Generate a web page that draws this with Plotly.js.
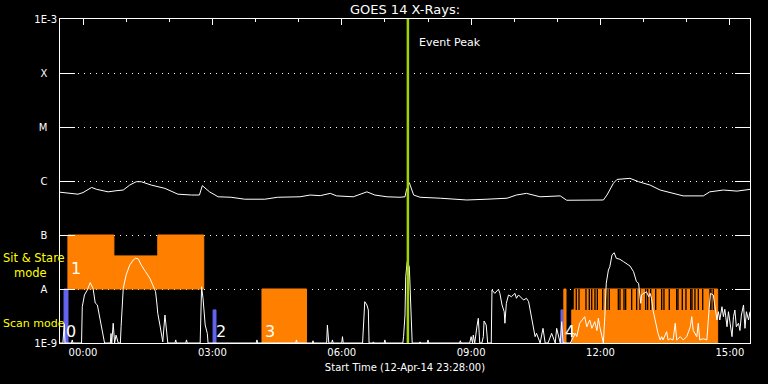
<!DOCTYPE html>
<html><head><meta charset="utf-8">
<script src="https://cdn.plot.ly/plotly-3.0.1.min.js"></script>
<style>html,body{margin:0;padding:0;background:#000;} #chart{width:768px;height:384px;}</style>
</head><body><div id="chart"></div>
<script>
// ---------- data ----------
const chartTitle = 'GOES 14 X-Rays:';
const xTitle = 'Start Time (12-Apr-14 23:28:00)';
const spanMinutes = 960;            // 16 h window starting 12-Apr-14 23:28
const eventPeakMinute = 484;        // minutes after start

const yTickVals = [1e-9, 1e-8, 1e-7, 1e-6, 1e-5, 1e-4, 1e-3];
const yTickText = ['1E-9', 'A', 'B', 'C', 'M', 'X', '1E-3'];

// GOES long channel flux (minutes after start, W/m^2)
const goesMinutes = [0,25,32,44,51,67,78,88,97,106, 113,127,146,164,183,194,198,208,220,238,
  257,285,303,334,348,362,376,385,408,427, 438,455,473,480,482,486,492,501,529,566,
  594,622,635,649,668,696,705,756,761,770, 775,793,805,821,835,853,867,895,904,923, 942,960];
const goesFlux = [6.2e-7,5.7e-7,6.1e-7,7.6e-7,7.0e-7,6.3e-7,6.6e-7,6.8e-7,8.4e-7,9.7e-7,
  9.7e-7,8.4e-7,7.3e-7,5.7e-7,5.5e-7,5.5e-7,8.2e-7,6.3e-7,5.1e-7,5.0e-7,
  4.6e-7,4.6e-7,5.0e-7,5.1e-7,5.5e-7,5.35e-7,5.9e-7,5.3e-7,5.1e-7,6.3e-7,
  5.5e-7,5.1e-7,5.0e-7,5.1e-7,6.8e-7,9.3e-7,5.5e-7,5.0e-7,4.8e-7,4.45e-7,
  4.6e-7,4.8e-7,5.5e-7,5.9e-7,5.1e-7,5.3e-7,4.4e-7,4.45e-7,5.5e-7,9.1e-7,
  1.07e-6,1.12e-6,9.7e-7,8.4e-7,6.8e-7,5.9e-7,5.3e-7,5.3e-7,6.3e-7,6.8e-7,
  6.5e-7,7.0e-7];

// lower white curve
const lowMinutes = [0,4,6,7,16,17,18,30,31,34, 38,42,46,49,52,55,57,60,62,70,
  71,72,74,76,78,81,84,85,88,92, 97,102,105,109,113,119,125,129,133,135,
  136,139,141,143,146,148,150,160,161,162, 175,176,177,195,197,199,200,202,205,206,
  273,274,275,328,329,330,351,352,353,371, 372,373,374,378,379,380,392,393,394,421,
  422,424,427,429,430,435,436,437,451,452, 453,477,478,480,481,483,486,487,488,490,
  500,501,502,511,512,513,556,557,558,570, 572,574,575,577,580,582,584,587,589,590,
  593,595,600,601,605,610,612,615,618,619, 621,624,628,633,635,638,645,649,652,654,
  656,659,661,663,668,672,675,679,684,689, 691,696,698,700,710,717,719,723,727,730,
  733,737,740,744,747,749,751,754,756,758, 760,763,765,768,771,774,779,784,788,793,
  798,800,802,805,806,808,809,812,816,819, 821,823,825,828,830,832,835,837,839,844,
  846,849,853,856,858,863,867,872,877,879, 881,886,888,890,895,900,903,905,909,911,
  914,916,918,921,923,925,928,930,932,935, 937,939,941,944,946,948,951,953,955,958, 960];
const lowFlux = [1e-9,1e-9,2.25e-9,1e-9,1e-9,1.14e-9,1e-9,1e-9,4.7e-9,7.75e-9,
  9.6e-9,1.31e-8,1.03e-8,5.5e-9,5.06e-9,3.07e-9,2.0e-9,1.31e-9,1e-9,1e-9,
  1.5e-9,1e-9,2.32e-9,1e-9,1.4e-9,1e-9,1e-9,2.0e-9,1.03e-8,1.82e-8,
  2.78e-8,3.45e-8,3.71e-8,3.6e-8,2.78e-8,2.09e-8,1.58e-8,1.19e-8,8.9e-9,5.06e-9,
  3.55e-9,2.15e-9,1.4e-9,1.05e-9,3.3e-9,1.87e-9,1e-9,1e-9,1.14e-9,1e-9,
  1e-9,1.14e-9,1e-9,1e-9,1.1e-8,6.7e-9,3.8e-9,2.15e-9,1.5e-9,1e-9,
  1e-9,1.14e-9,1e-9,1e-9,1.14e-9,1e-9,1e-9,1.1e-9,1e-9,1e-9,
  2.15e-9,1.35e-9,1e-9,1e-9,1.14e-9,1e-9,1e-9,1.31e-9,1e-9,1e-9,
  1.62e-9,5.82e-9,5.06e-9,4.09e-9,1e-9,1e-9,1.05e-9,1e-9,1e-9,1.14e-9,
  1e-9,1e-9,1.31e-9,3.3e-9,1.69e-8,3.2e-8,2.59e-8,1.1e-8,5.43e-9,1e-9,
  1e-9,1.05e-9,1e-9,1e-9,1.14e-9,1e-9,1e-9,1.1e-9,1e-9,1e-9,
  1.31e-9,1e-9,1.4e-9,1e-9,2.0e-9,2.87e-9,1e-9,1e-9,1.31e-9,2.55e-9,
  2.15e-9,1e-9,1e-9,9.6e-9,8.3e-9,9.9e-9,8.3e-9,5.06e-9,3.8e-9,2.32e-9,
  5.43e-9,7.75e-9,7.2e-9,8.3e-9,6.73e-9,7.75e-9,6.25e-9,6.73e-9,5.82e-9,4.09e-9,
  3.07e-9,1.87e-9,1.31e-9,1.51e-9,1e-9,1.87e-9,1e-9,1e-9,1.51e-9,1e-9,
  1.87e-9,1e-9,2.48e-9,1e-9,1e-9,1.51e-9,1.31e-9,2.32e-9,2.67e-9,3.07e-9,
  2.0e-9,2.67e-9,1.87e-9,2.48e-9,1.7e-9,2.87e-9,2.0e-9,1.31e-9,1e-9,3.07e-9,
  1.28e-8,2.25e-8,2.59e-8,4.27e-8,4.7e-8,3.71e-8,3.55e-8,3.21e-8,2.99e-8,2.67e-8,
  2.09e-8,1.69e-8,1.37e-8,1.28e-8,9.6e-9,5.43e-9,7.75e-9,8.3e-9,8.9e-9,7.2e-9,
  8.3e-9,6.73e-9,4.09e-9,2.67e-9,1.87e-9,1.51e-9,1.14e-9,1.31e-9,1.14e-9,1.62e-9,
  1.14e-9,1.2e-9,1.14e-9,2.32e-9,1.14e-9,1.31e-9,1.14e-9,1.31e-9,2.0e-9,3.07e-9,
  1.7e-9,1.31e-9,2.32e-9,1.14e-9,1.2e-9,1.14e-9,4.09e-9,8.3e-9,7.75e-9,4.7e-9,
  2.67e-9,3.8e-9,2.67e-9,4.7e-9,3.07e-9,4.2e-9,2.0e-9,3.8e-9,2.67e-9,1.31e-9,
  3.07e-9,4.09e-9,2.0e-9,2.32e-9,1.7e-9,3.3e-9,5.06e-9,1.87e-9,3.8e-9,2.67e-9, 3.8e-9];

// observation blocks
const obsStart = [5.6, 11, 75, 136, 213, 281, 697, 701, 712];
const obsEnd   = [11.1, 75, 136, 200, 217, 343, 700, 704, 915];
const obsLow   = [1e-9, 1e-8, 1e-8, 1e-8, 1e-9, 1e-9, 1e-9, 1e-9, 1e-9];
const obsHigh  = [1e-8, 1e-7, 4.1e-8, 1e-7, 4.1e-9, 1e-8, 4.1e-9, 1e-8, 4.1e-9];
const obsKind  = ['scan','stare','stare','stare','scan','stare','scan','stare','stare'];

// rapid raster steps above the last block (gap minutes)
const rasterFrom = 715.5, rasterTo = 915, rasterLow = 4.1e-9, rasterHigh = 1e-8;
const rasterGaps = [718.3,722.1,731.8,736.4,739.8,744.3,747.6,755.1,761.0,764.2,776.8,779.1,
  784.7,787.0,795.4,802.3,806.9,814.9,817.6,821.8,828.8,837.1,840.3,847.7,858.0,859.8,
  865.8,870.9,877.5,879.3,883.4,888.1,894.2,904.3,905.7,908.9];

const obsLabels = ['0','1','2','3','4'];
const obsLabelMinute = [6, 12, 214, 282, 700];
const obsLabelBase = [1e-9, 1e-8, 1e-9, 1e-9, 1e-9];

// ---------- build ----------
const base = Date.UTC(2014, 3, 12, 23, 28, 0);
function t(m) { return new Date(base + m * 60000).toISOString().slice(0, 23).replace('T', ' '); }

const ORANGE = '#ff8000', BLUE = '#6464f0', GREEN = '#9fd400';
const traces = [];
function rect(s, e, lo, hi, color) {
  traces.push({x: [t(s), t(e), t(e), t(s), t(s)], y: [lo, lo, hi, hi, lo], type: 'scatter', mode: 'lines',
    fill: 'toself', fillcolor: color, line: {width: 1, color: color}, hoverinfo: 'skip'});
}
obsStart.forEach((s, i) => rect(s, obsEnd[i], obsLow[i], obsHigh[i], obsKind[i] === 'scan' ? BLUE : ORANGE));
rect(rasterFrom, rasterTo, rasterLow, rasterHigh, ORANGE);
const gx = [], gy = [];
rasterGaps.forEach(g => { gx.push(t(g), t(g), null); gy.push(rasterLow, rasterHigh, null); });
traces.push({x: gx, y: gy, type: 'scatter', mode: 'lines', line: {color: '#000', width: 1.3},
  connectgaps: false, hoverinfo: 'skip'});

traces.push({x: goesMinutes.map(t), y: goesFlux, type: 'scatter', mode: 'lines',
  line: {color: '#fff', width: 1}, hoverinfo: 'skip'});
traces.push({x: lowMinutes.map(t), y: lowFlux, type: 'scatter', mode: 'lines',
  line: {color: '#fff', width: 1}, hoverinfo: 'skip'});
traces.push({x: [t(eventPeakMinute), t(eventPeakMinute)], y: [yTickVals[0], yTickVals[6]], xaxis: 'x2',
  type: 'scatter', mode: 'lines', line: {color: GREEN, width: 2.5}, hoverinfo: 'skip'});

const NB = '\u00a0';
const yTickLabels = yTickText.map(s => s.length === 1 ? s + NB + NB + NB : s);

const annotations = [
  {text: 'Event Peak', x: t(eventPeakMinute), xref: 'x', xshift: 9, xanchor: 'left',
   y: Math.log10(3.6e-4), yref: 'y', yanchor: 'middle', showarrow: false, font: {size: 11, color: '#fff'}},
  {text: 'Sit & Stare<br>' + NB + NB + NB + 'mode', x: -0.085, xref: 'paper', xanchor: 'left', align: 'left',
   y: Math.log10(2.78e-8), yref: 'y', yanchor: 'middle', showarrow: false,
   font: {size: 11.5, color: '#ffff00'}},
  {text: 'Scan mode', x: -0.085, xref: 'paper', xanchor: 'left', y: Math.log10(2.25e-9), yref: 'y',
   yanchor: 'middle', showarrow: false, font: {size: 11, color: '#ffff00'}}
];
obsLabels.forEach((lab, i) => annotations.push({text: lab, x: t(obsLabelMinute[i]), xref: 'x', xanchor: 'left',
  y: Math.log10(obsLabelBase[i]), yref: 'y', yanchor: 'bottom', yshift: i === 1 ? 9 : 0,
  showarrow: false, font: {size: 16, color: '#fff'}}));

const layout = {
  width: 768, height: 384,
  paper_bgcolor: '#000', plot_bgcolor: '#000',
  margin: {l: 60, r: 18, t: 19, b: 41},
  showlegend: false, hovermode: false,
  font: {family: 'DejaVu Sans', color: '#fff', size: 10},
  title: {text: chartTitle, font: {size: 13, color: '#fff'}, x: 0.5, xref: 'paper',
          y: 1 - 9 / 384, yref: 'container', yanchor: 'middle'},
  xaxis: {type: 'date', range: [t(0), t(spanMinutes)], showgrid: false, zeroline: false,
          showline: true, linecolor: '#fff', linewidth: 1, mirror: true, ticks: '',
          tick0: '2014-04-13 00:00', dtick: 3 * 3600000, tickformat: '%H:%M',
          tickfont: {size: 10, color: '#fff'},
          title: {text: xTitle, font: {size: 10, color: '#fff'}, standoff: 6}},
  xaxis2: {type: 'date', overlaying: 'x', side: 'top', range: [t(0), t(spanMinutes)],
           ticks: 'inside', ticklen: 6, tickcolor: '#fff', tickwidth: 1,
           tick0: '2014-04-13 00:00', dtick: 3 * 3600000, showticklabels: false,
           showgrid: false, zeroline: false, showline: false,
           minor: {ticks: 'inside', ticklen: 3, dtick: 3600000, tick0: '2014-04-13 00:00', tickcolor: '#fff', showgrid: false}},
  yaxis: {type: 'log', range: [-9, -3], tickvals: yTickVals, ticktext: yTickLabels,
          ticks: 'inside', ticklen: 15, tickcolor: '#fff', tickwidth: 1, mirror: 'ticks',
          showline: true, linecolor: '#fff', linewidth: 1,
          showgrid: true, gridcolor: '#fff', gridwidth: 1, griddash: '1px,5px', zeroline: false,
          tickfont: {size: 10, color: '#fff'}},
  annotations: annotations
};
Plotly.newPlot('chart', traces, layout, {staticPlot: true, displayModeBar: false});
</script>
</body></html>
